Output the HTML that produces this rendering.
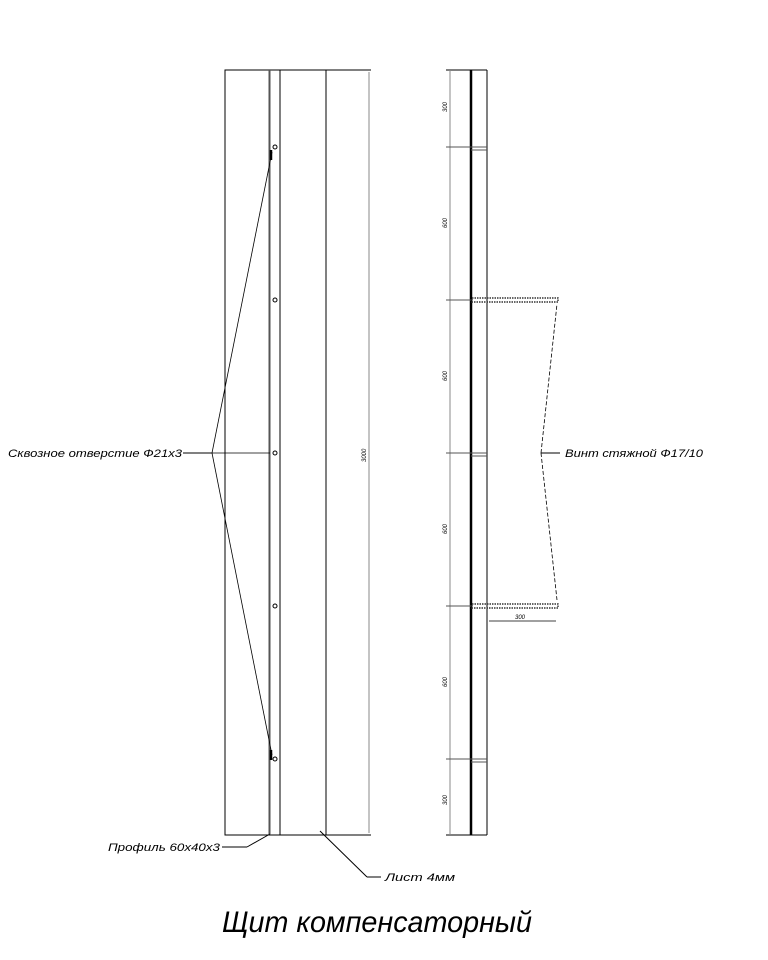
<!DOCTYPE html>
<html><head><meta charset="utf-8"><style>
html,body{margin:0;padding:0;background:#fff;}
svg{display:block;}
text{font-family:"Liberation Sans","DejaVu Sans",sans-serif;font-style:italic;fill:#000;}
</style></head><body>
<svg width="768" height="960" viewBox="0 0 768 960" xmlns="http://www.w3.org/2000/svg">
<g stroke="#000" fill="none" stroke-width="1">
<rect x="225" y="70" width="101" height="765"/>
<line x1="269.5" y1="70" x2="269.5" y2="835" stroke="#555" stroke-width="2"/>
<line x1="280" y1="70" x2="280" y2="835"/>
<line x1="326" y1="70" x2="371" y2="70"/>
<line x1="326" y1="835" x2="371" y2="835"/>
<line x1="369" y1="72" x2="369" y2="833" stroke="#888"/>
<circle cx="275" cy="147" r="2"/><circle cx="275" cy="300" r="2"/><circle cx="275" cy="453" r="2"/><circle cx="275" cy="606" r="2"/><circle cx="275" cy="759" r="2"/>
<line x1="183" y1="453" x2="212" y2="453"/>
<line x1="212" y1="453" x2="272" y2="152" stroke-width="0.8"/>
<line x1="212" y1="453" x2="272" y2="755" stroke-width="0.8"/>
<line x1="212" y1="453" x2="270" y2="453" stroke-width="0.8"/>
<line x1="271" y1="150" x2="271" y2="160" stroke-width="2.5"/>
<line x1="271" y1="750" x2="271" y2="760" stroke-width="2.5"/>
<line x1="222" y1="847" x2="247" y2="847"/>
<line x1="247" y1="847" x2="270" y2="834"/>
<line x1="320" y1="831" x2="367" y2="877"/>
<line x1="367" y1="877" x2="381" y2="877"/>
<line x1="471" y1="70" x2="471" y2="835" stroke-width="2.5"/>
<line x1="487" y1="70" x2="487" y2="835"/>
<line x1="446" y1="70" x2="487" y2="70"/>
<line x1="446" y1="835" x2="487" y2="835"/>
<line x1="450" y1="70" x2="450" y2="835" stroke="#888"/>
<g stroke="#555">
<line x1="446" y1="147" x2="487" y2="147"/><line x1="471" y1="150" x2="487" y2="150"/>
<line x1="446" y1="300" x2="471" y2="300"/>
<line x1="446" y1="453" x2="487" y2="453"/><line x1="471" y1="456" x2="487" y2="456"/>
<line x1="446" y1="606" x2="471" y2="606"/>
<line x1="446" y1="759" x2="487" y2="759"/><line x1="471" y1="762" x2="487" y2="762"/>
</g>
<rect x="472" y="298" width="86" height="4" stroke="#333" stroke-width="1.4" stroke-dasharray="1.5 1"/>
<rect x="472" y="604" width="86" height="4" stroke="#333" stroke-width="1.4" stroke-dasharray="1.5 1"/>
<line x1="489" y1="621" x2="556" y2="621" stroke-width="0.8"/>
<line x1="541" y1="453" x2="560" y2="453"/>
<line x1="541" y1="453" x2="557" y2="304" stroke-width="0.8" stroke-dasharray="4 2"/>
<line x1="541" y1="453" x2="557" y2="600" stroke-width="0.8" stroke-dasharray="4 2"/>
</g>
<g font-size="6" fill="#333">
<text transform="translate(447,112) rotate(-90)">300</text>
<text transform="translate(447,228) rotate(-90)">600</text>
<text transform="translate(447,381) rotate(-90)">600</text>
<text transform="translate(447,534) rotate(-90)">600</text>
<text transform="translate(447,687) rotate(-90)">600</text>
<text transform="translate(447,805) rotate(-90)">300</text>
<text transform="translate(366,462) rotate(-90)">3000</text>
<text x="515" y="619">300</text>
</g>
<text x="8" y="457" font-size="11" textLength="174" lengthAdjust="spacingAndGlyphs">Сквозное отверстие Ф21х3</text>
<text x="565" y="457" font-size="11" textLength="138" lengthAdjust="spacingAndGlyphs">Винт стяжной Ф17/10</text>
<text x="108" y="851" font-size="11" textLength="112" lengthAdjust="spacingAndGlyphs">Профиль 60х40х3</text>
<text x="385" y="881" font-size="11" textLength="70" lengthAdjust="spacingAndGlyphs">Лист 4мм</text>
<text x="222" y="932" font-size="30" textLength="310" lengthAdjust="spacingAndGlyphs">Щит компенсаторный</text>
</svg>
</body></html>
